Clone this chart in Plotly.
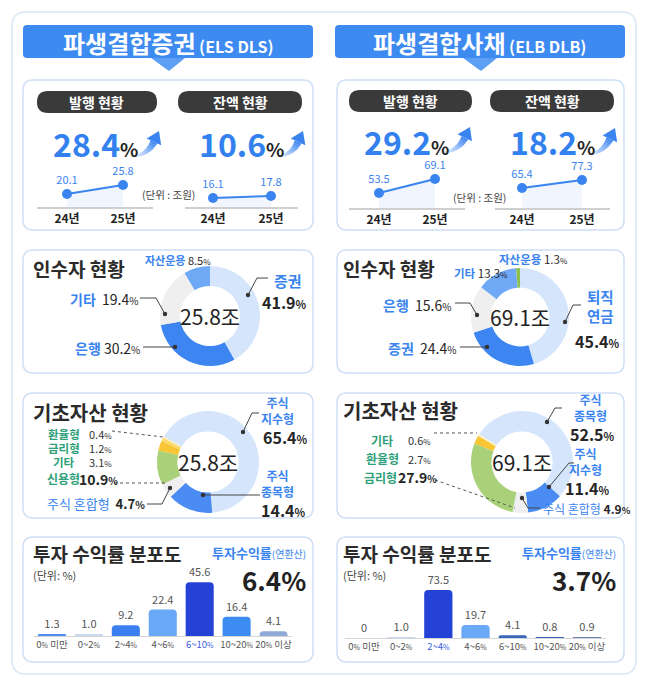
import numpy as np
import plotly.graph_objects as go

W, H = 647, 689
PAD = 8                      # page margin around the figure
FW, FH = W - 2 * PAD, H - 2 * PAD
FONT = "Noto Sans CJK KR"
BLUE = "#3a84f0"
DARK = "#262626"
TEAL = "#2f9f7a"

# ---- data ----
years = ["24년", "25년"]
els_issue = [20.1, 25.8]      # 발행 (조원)
els_balance = [16.1, 17.8]    # 잔액
elb_issue = [53.5, 69.1]
elb_balance = [65.4, 77.3]
els_growth = [28.4, 10.6]     # 발행, 잔액 증가율 %
elb_growth = [29.2, 18.2]

els_total = 25.8
elb_total = 69.1

els_inv_labels = ["증권", "은행", "기타", "자산운용"]
els_inv_values = [41.9, 30.2, 19.4, 8.5]
elb_inv_labels = ["퇴직연금", "증권", "은행", "기타", "자산운용"]
elb_inv_values = [45.4, 24.4, 15.6, 13.3, 1.3]

els_asset_labels = ["주식 지수형", "주식 종목형", "주식 혼합형", "신용형", "기타", "금리형", "환율형"]
els_asset_values = [65.4, 14.4, 4.7, 10.9, 3.1, 1.2, 0.4]
elb_asset_labels = ["주식 종목형", "주식 지수형", "주식 혼합형", "금리형", "환율형", "기타"]
elb_asset_values = [52.5, 11.4, 4.9, 27.9, 2.7, 0.6]

return_bins = ["0% 미만", "0~2%", "2~4%", "4~6%", "6~10%", "10~20%", "20% 이상"]
els_returns = [1.3, 1.0, 9.2, 22.4, 45.6, 16.4, 4.1]
elb_returns = [0, 1.0, 73.5, 19.7, 4.1, 0.8, 0.9]
els_avg_return = 6.4
elb_avg_return = 3.7


# ---- helpers (page pixel -> paper) ----
def X(px):
    return (px - PAD) / FW


def Y(py):
    return 1 - (py - PAD) / FH


def pt(x, y):
    return f"{X(x):.5f},{Y(y):.5f}"


def rrect(x0, y0, x1, y1, r):
    return (f"M{pt(x0 + r, y0)} L{pt(x1 - r, y0)} Q{pt(x1, y0)} {pt(x1, y0 + r)} "
            f"L{pt(x1, y1 - r)} Q{pt(x1, y1)} {pt(x1 - r, y1)} L{pt(x0 + r, y1)} "
            f"Q{pt(x0, y1)} {pt(x0, y1 - r)} L{pt(x0, y0 + r)} Q{pt(x0, y0)} {pt(x0 + r, y0)} Z")


fig = go.Figure()


def box(x0, y0, x1, y1, r, fill, line=None, lw=0, layer="below"):
    fig.add_shape(type="path", path=rrect(x0, y0, x1, y1, r), xref="paper", yref="paper",
                  fillcolor=fill, line=dict(color=line or fill, width=lw), layer=layer)


def poly(points, fill, layer="above"):
    path = "M" + " L".join(pt(x, y) for x, y in points) + " Z"
    fig.add_shape(type="path", path=path, xref="paper", yref="paper",
                  fillcolor=fill, line=dict(width=0), layer=layer)


def text(x, y, s, size, color=DARK, anchor="center"):
    fig.add_annotation(x=X(x), y=Y(y), xref="paper", yref="paper", text=s, showarrow=False,
                       font=dict(size=size, color=color, family=FONT),
                       xanchor=anchor, yanchor="middle", align="center", borderpad=0)


def leader(points, dash="solid", color="#444", dot=True):
    path = "M" + " L".join(pt(x, y) for x, y in points)
    fig.add_shape(type="path", path=path, xref="paper", yref="paper",
                  line=dict(color=color, width=1, dash=dash), layer="above")
    if dot:
        x, y = points[-1]
        fig.add_shape(type="circle", xref="paper", yref="paper",
                      x0=X(x - 2.2), x1=X(x + 2.2), y0=Y(y + 2.2), y1=Y(y - 2.2),
                      fillcolor="#333", line=dict(width=0), layer="above")


def arrow(tx, ty, hx, hy):
    cx, cy = tx + 0.6 * (hx - tx), ty - 0.05 * (ty - hy)
    ux, uy = hx - cx, hy - cy
    L = np.hypot(ux, uy)
    ux, uy = ux / L, uy / L
    nx, ny = hx - 12 * ux, hy - 12 * uy
    ts = np.linspace(0, 1, 13)
    bx = (1 - ts) ** 2 * tx + 2 * (1 - ts) * ts * cx + ts ** 2 * nx
    by = (1 - ts) ** 2 * ty + 2 * (1 - ts) * ts * cy + ts ** 2 * ny
    dx = 2 * (1 - ts) * (cx - tx) + 2 * ts * (nx - cx)
    dy = 2 * (1 - ts) * (cy - ty) + 2 * ts * (ny - cy)
    nrm = np.hypot(dx, dy)
    px_, py_ = -dy / nrm, dx / nrm
    w = 0.5 + 3.2 * ts
    for i in range(len(ts) - 1):
        a = 0.08 + 0.92 * ((ts[i] + ts[i + 1]) / 2) ** 1.3
        quad = [(bx[i] + px_[i] * w[i], by[i] + py_[i] * w[i]),
                (bx[i + 1] + px_[i + 1] * w[i + 1], by[i + 1] + py_[i + 1] * w[i + 1]),
                (bx[i + 1] - px_[i + 1] * w[i + 1], by[i + 1] - py_[i + 1] * w[i + 1]),
                (bx[i] - px_[i] * w[i], by[i] - py_[i] * w[i])]
        poly(quad, f"rgba(58,132,240,{a:.2f})")
    poly([(hx, hy), (nx - 8 * uy, ny + 8 * ux), (nx + 8 * uy, ny - 8 * ux)], "#3a84f0")


def pct(v, small=10):
    return f"{v}<span style='font-size:{small}px'>%</span>"


# ---- frame, banners ----
box(12, 12, 636, 674, 14, "white", "#d9e6f5", 1.5)
for x0, x1, title, sub in [(23, 313, "파생결합증권", "(ELS DLS)"), (335, 625, "파생결합사채", "(ELB DLB)")]:
    box(x0, 25, x1, 58, 4, "#3d8af1")
    mid = (x0 + x1) / 2
    poly([(mid - 17, 58), (mid + 17, 58), (mid + 1, 71)], "#5c9ff5", layer="below")
    text(mid, 42, f"<b>{title}</b><span style='font-size:16px'><b> {sub}</b></span>", 24, "white")

# panel boxes
for x0, x1 in [(23, 313), (337, 624)]:
    for y0, y1 in [(80, 230), (250, 373), (393, 518), (537, 662)]:
        box(x0, y0, x1, y1, 10, "white", "#cfe0f6", 1.5)

# ---- issuance / balance ----
pills = [(37, 157, 91, 113, "발행 현황"), (178, 302, 91, 113, "잔액 현황"),
         (349, 472, 90, 112, "발행 현황"), (490, 614, 90, 112, "잔액 현황")]
for x0, x1, y0, y1, s in pills:
    box(x0, y0, x1, y1, 11, "#3a3a3a")
    text((x0 + x1) / 2, (y0 + y1) / 2, f"<b>{s}</b>", 14, "white")

for (x, y), g in zip([(52, 143), (198, 143), (363, 141), (509, 141)], els_growth + elb_growth):
    text(x, y, f"<b>{g}</b><span style='font-size:19px;color:#222'><b>%</b></span>", 32, "#3381ef", "left")

arrow(130, 157, 159, 131)
arrow(275, 157, 303, 131)
arrow(440, 153, 470, 127)
arrow(585, 155, 615, 128)

text(168, 194, "(단위 : 조원)", 10.5, "#444")
text(479, 197, "(단위 : 조원)", 10.5, "#444")

minis = [
    (els_issue, (37, 153), (207, 170), [-0.536, 1.536], [11.9, 35.3]),
    (els_balance, (185, 298), (207, 170), [-0.483, 1.466], [8.45, 39.9]),
    (elb_issue, (349, 465), (208, 170), [-0.536, 1.536], [36.8, 79.1]),
    (elb_balance, (495, 610), (208, 170), [-0.45, 1.467], [35.6, 92.2]),
]
axes = {}
for i, (vals, (xa, xb), (yb, yt), xr, yr) in enumerate(minis, start=1):
    sfx = "" if i == 1 else str(i)
    fig.add_trace(go.Scatter(
        x=years, y=vals, mode="lines+markers+text", text=[str(v) for v in vals],
        textposition="top center", textfont=dict(size=11, color=BLUE, family=FONT),
        line=dict(color=BLUE, width=2), marker=dict(size=10, color=BLUE),
        fill="tozeroy", fillcolor="rgba(58,132,240,0.07)", cliponaxis=False,
        hoverinfo="skip", xaxis=f"x{sfx}", yaxis=f"y{sfx}"))
    axes[f"xaxis{sfx}"] = dict(domain=[X(xa), X(xb)], range=xr, type="category",
                               tickvals=years, ticktext=[f"<b>{y}</b>" for y in years],
                               tickfont=dict(size=12, color="#222"), showline=True,
                               linecolor="#cfcfcf", linewidth=2, showgrid=False,
                               zeroline=False, ticks="", anchor=f"y{sfx}", fixedrange=True)
    axes[f"yaxis{sfx}"] = dict(domain=[Y(yb), Y(yt)], range=yr, visible=False,
                               anchor=f"x{sfx}", fixedrange=True)


# ---- investors ----
def donut(cx, cy, r, labels, values, colors, rotation, hole):
    fig.add_trace(go.Pie(labels=labels, values=values, sort=False, direction="clockwise",
                         rotation=rotation, hole=hole, textinfo="none", hoverinfo="skip",
                         marker=dict(colors=colors, line=dict(width=0)), showlegend=False,
                         domain=dict(x=[X(cx - r), X(cx + r)], y=[Y(cy + r), Y(cy - r)])))


def stacked(x, y, label, size=12):
    # two-line blue label
    text(x, y, "<b>" + "<br>".join(label.split(" ")) + "</b>", size, BLUE)


text(32, 268, "<b>인수자 현황</b>", 19, "#2b2b2b", "left")
text(342, 268, "<b>인수자 현황</b>", 19, "#2b2b2b", "left")

donut(210, 316, 50, els_inv_labels, els_inv_values,
      ["#d5e5fb", "#3d86f2", "#efefef", "#6fa9f6"], 0, 0.6)
donut(520, 317, 49, elb_inv_labels, elb_inv_values,
      ["#d5e5fb", "#3d86f2", "#efefef", "#6fa9f6", "#8cc152"], 0, 0.6)
text(210, 316, f"{els_total}조", 21, "#222")
text(520, 317, f"{elb_total}조", 21, "#222")

# ELS investor labels
text(288, 280, f"<b>{els_inv_labels[0]}</b>", 15, BLUE)
text(284, 302, f"<b>{pct(els_inv_values[0], 11)}</b>", 16, DARK)
leader([(268, 278), (257, 278), (248, 295)])
text(139, 299, f"<span style='color:{BLUE}'><b>{els_inv_labels[2]}</b></span>  {pct(els_inv_values[2])}", 14, DARK, "right")
leader([(140, 298), (156, 298), (165, 314)])
text(141, 348, f"<span style='color:{BLUE}'><b>{els_inv_labels[1]}</b></span> {pct(els_inv_values[1])}", 14, DARK, "right")
leader([(143, 347), (175, 347)])
text(144, 260, f"<span style='color:{BLUE}'><b>{els_inv_labels[3]}</b></span> {pct(els_inv_values[3], 8)}", 11, DARK, "left")

# ELB investor labels
stacked(600, 306, elb_inv_labels[0][:2] + " " + elb_inv_labels[0][2:], 14.5)
text(597, 341, f"<b>{pct(elb_inv_values[0], 11)}</b>", 16, DARK)
leader([(581, 305), (573, 305), (565, 322)])
text(452, 305, f"<span style='color:{BLUE}'><b>{elb_inv_labels[2]}</b></span>  {pct(elb_inv_values[2])}", 14, DARK, "right")
leader([(455, 303), (470, 303), (477, 315)])
text(457, 348, f"<span style='color:{BLUE}'><b>{elb_inv_labels[1]}</b></span>  {pct(elb_inv_values[1])}", 14, DARK, "right")
leader([(460, 347), (487, 347)])
text(453, 273, f"<span style='color:{BLUE}'><b>{elb_inv_labels[3]}</b></span> {pct(elb_inv_values[3], 8)}", 11.5, DARK, "left")
text(498, 259, f"<span style='color:{BLUE}'><b>{elb_inv_labels[4]}</b></span> {pct(elb_inv_values[4], 8)}", 11.5, DARK, "left")

# ---- underlying assets ----
text(32, 412, "<b>기초자산 현황</b>", 20, "#2b2b2b", "left")
text(342, 410, "<b>기초자산 현황</b>", 20, "#2b2b2b", "left")

donut(208, 462, 51, els_asset_labels, els_asset_values,
      ["#d5e5fb", "#4a8cf3", "#efefef", "#a9d17a", "#f8c534", "#fbd96a", "#fdf0c4"], 300, 0.6)
donut(522, 462, 51, elb_asset_labels, elb_asset_values,
      ["#d5e5fb", "#4a8cf3", "#efefef", "#a9d17a", "#f8c534", "#fdf0c4"], 303, 0.6)
text(208, 462, f"{els_total}조", 21, "#222")
text(522, 462, f"{elb_total}조", 21, "#222")

# ELS asset labels
stacked(277, 410, els_asset_labels[0])
text(285, 437, f"<b>{pct(els_asset_values[0], 11)}</b>", 16, DARK)
leader([(259, 413), (252, 413), (243, 432)])
stacked(277, 483, els_asset_labels[1])
text(283, 510, f"<b>{pct(els_asset_values[1], 11)}</b>", 16, DARK)
leader([(260, 495), (203, 495)])
for lbl, val, y in [(els_asset_labels[6], els_asset_values[6], 434),
                    (els_asset_labels[5], els_asset_values[5], 448),
                    (els_asset_labels[4], els_asset_values[4], 462)]:
    text(64, y, f"<b>{lbl}</b>", 11.5, TEAL)
    text(88, y, pct(val, 8), 11, "#333", "left")
text(63, 479, f"<b>{els_asset_labels[3]}</b>", 12, TEAL)
text(78, 479, f"<b>{pct(els_asset_values[3], 10)}</b>", 14, DARK, "left")
leader([(112, 431), (163, 437)], dash="dot", color="#555", dot=False)
leader([(114, 483), (168, 483)], dash="dot", color="#555", dot=False)
text(146, 503, f"<span style='color:{BLUE}'>{els_asset_labels[2]}</span>  <b>{pct(els_asset_values[2])}</b>", 13, DARK, "right")
leader([(147, 504), (162, 504), (170, 488)])

# ELB asset labels
stacked(590, 407, elb_asset_labels[0])
text(592, 434, f"<b>{pct(elb_asset_values[0], 11)}</b>", 16, DARK)
leader([(562, 408), (555, 408), (547, 422)])
stacked(585, 461, elb_asset_labels[1])
text(587, 488, f"<b>{pct(elb_asset_values[1], 11)}</b>", 16, DARK)
leader([(574, 463), (569, 463), (549, 487)])
for lbl, val, y in [(elb_asset_labels[5], elb_asset_values[5], 440),
                    (elb_asset_labels[4], elb_asset_values[4], 459)]:
    text(382, y, f"<b>{lbl}</b>", 12, TEAL)
    text(407, y, pct(val, 8), 11, "#333", "left")
text(380, 477, f"<b>{elb_asset_labels[3]}</b>", 12, TEAL)
text(397, 477, f"<b>{pct(elb_asset_values[3], 10)}</b>", 14, DARK, "left")
leader([(434, 433), (477, 433)], dash="dot", color="#555", dot=False)
leader([(435, 480), (515, 508)], dash="dot", color="#555", dot=False)
text(542, 508, f"<span style='color:{BLUE}'>{elb_asset_labels[2]}</span> <b>{pct(elb_asset_values[2], 9)}</b>", 12, DARK, "left")
leader([(540, 508), (528, 508), (522, 498)])

# ---- return distribution ----
for x0, x1, avg in [(32, 307, els_avg_return), (342, 617, elb_avg_return)]:
    text(x0, 553, "<b>투자 수익률 분포도</b>", 19, "#2b2b2b", "left")
    text(x0, 575, "(단위: %)", 11, "#444", "left")
    text(x1, 552, "<b>투자수익률</b><span style='font-size:10px'>(연환산)</span>", 13, BLUE, "right")
    text(x1, 579, f"<b>{avg}%</b>", 26, "#222", "right")


def tick_labels(values):
    hi = int(np.argmax(values))
    out = []
    for i, s in enumerate(return_bins):
        s = s.replace("%", "<span style='font-size:7px'>%</span>")
        out.append(f"<span style='color:#3a5ee0'>{s}</span>" if i == hi else s)
    return out


bars = [
    (5, els_returns, ["#4f8ff3", "#c9d9ef", "#3a80f0", "#6aa8f8", "#2443d6", "#3d8cf2", "#8fa9d8"],
     (33.5, 292), (636, 560), [0, 64.4]),
    (6, elb_returns, ["#c9d9ef", "#c9d9ef", "#2443d6", "#6aa8f8", "#3a66b8", "#3a66b8", "#6a80b0"],
     (345.4, 605.6), (638, 570), [0, 104]),
]
for i, vals, colors, (xa, xb), (yb, yt), yr in bars:
    fig.add_trace(go.Bar(
        x=return_bins, y=vals, width=0.76,
        marker=dict(color=colors, cornerradius=4, line=dict(width=0)),
        text=["0" if v == 0 else f"{v:.1f}" for v in vals], textposition="outside",
        textfont=dict(size=11, color="#555", family=FONT), cliponaxis=False,
        hoverinfo="skip", xaxis=f"x{i}", yaxis=f"y{i}"))
    axes[f"xaxis{i}"] = dict(domain=[X(xa), X(xb)], type="category", range=[-0.5, 6.5],
                             tickvals=return_bins, ticktext=tick_labels(vals), tickangle=0,
                             tickfont=dict(size=9.5, color="#555"), showline=True,
                             linecolor="#d5d5d5", linewidth=1, showgrid=False, zeroline=False,
                             ticks="", anchor=f"y{i}", fixedrange=True)
    axes[f"yaxis{i}"] = dict(domain=[Y(yb), Y(yt)], range=yr, visible=False,
                             anchor=f"x{i}", fixedrange=True)

fig.update_layout(
    width=FW, height=FH, autosize=False,
    margin=dict(l=0, r=0, t=0, b=0),
    paper_bgcolor="white", plot_bgcolor="rgba(0,0,0,0)",
    font=dict(family=FONT, color=DARK),
    showlegend=False,
    **axes,
)

fig.write_html("out.html")
